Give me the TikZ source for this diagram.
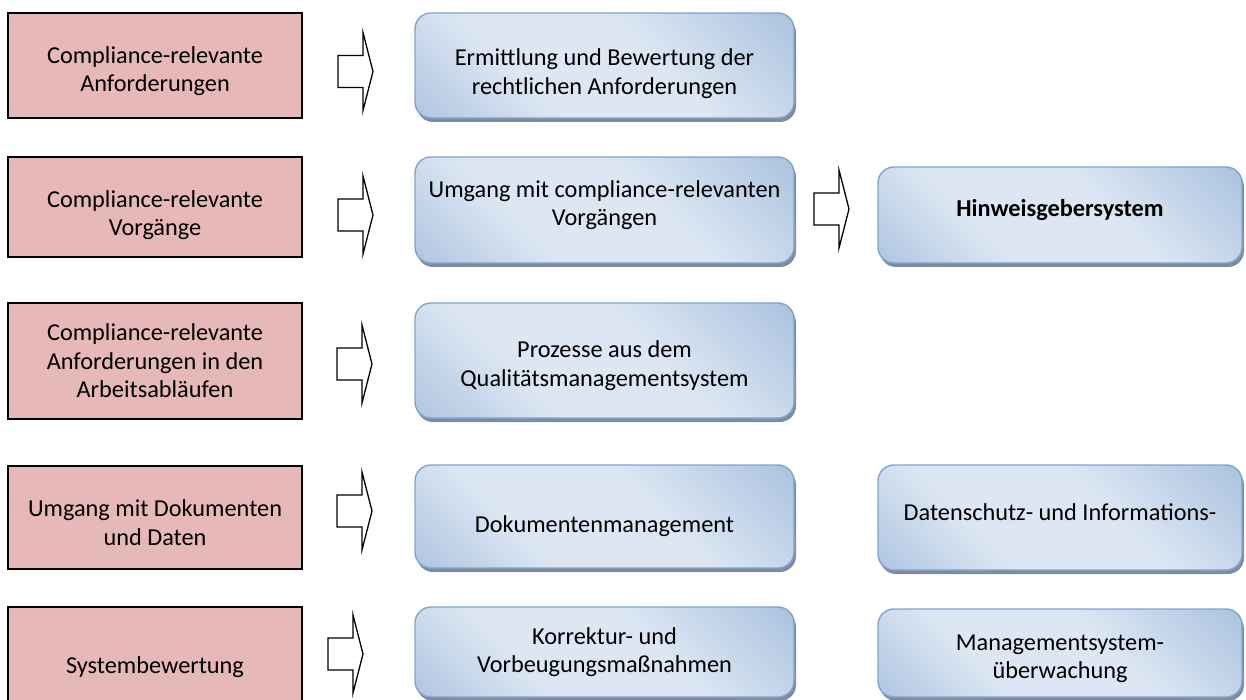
\documentclass[tikz,border=0pt]{standalone}
\usepackage{fontspec}
\setmainfont{Carlito}
\usetikzlibrary{shadows}
\definecolor{redfill}{RGB}{230,185,184}
\definecolor{bdark}{RGB}{143,174,212}
\definecolor{blight}{RGB}{221,231,243}
\definecolor{bborder}{RGB}{130,163,208}
\definecolor{shadowc}{RGB}{125,140,163}
\pgfdeclareverticalshading{bluesheen}{100bp}{color(0bp)=(bdark); color(36bp)=(blight); color(58bp)=(blight); color(100bp)=(bdark)}
\begin{document}
\begin{tikzpicture}[x=1pt,y=-1pt,
 redbox/.style={draw=black, line width=1.4pt, fill=redfill, minimum width=294pt, inner sep=0pt},
 bluebox/.style={shade, shading=bluesheen, shading angle=-45, draw=bborder, line width=1.4pt, rounded corners=16pt, inner sep=0pt,
   drop shadow={shadow xshift=2pt, shadow yshift=-4pt, fill=shadowc, opacity=1}},
 midbox/.style={bluebox, minimum width=379pt},
 rightbox/.style={bluebox, minimum width=364pt},
 txt/.style={align=center, font=\fontsize{24.3}{28.5}\selectfont, inner sep=0pt},
 arrowline/.style={draw=black, line width=1.3pt, fill=white, line join=miter},
 barrow/.pic={\path[arrowline] (0,-16) -- (25,-16) -- (25,-39) -- (35,0) -- (25,39) -- (25,16) -- (0,16) -- cycle;}
]
\useasboundingbox (0,0) rectangle (1246,700);
\fill[white] (0,0) rectangle (1246,700);
\clip (0,0) rectangle (1246,700);

% left column
\node[redbox, minimum height=105pt] (r1) at (155,65.5) {};
\node[txt] (tr1) at ([yshift=-5.5pt]r1.center) {Compliance-relevante\\Anforderungen};
\node[redbox, minimum height=100pt] (r2) at (155,207) {};
\node[txt] (tr2) at ([yshift=-8pt]r2.center) {Compliance-relevante\\Vorgänge};
\node[redbox, minimum height=116pt] (r3) at (155,361) {};
\node[txt] (tr3) at (r3.center) {Compliance-relevante\\Anforderungen in den\\Arbeitsabläufen};
\node[redbox, minimum height=103pt] (r4) at (155,517.5) {};
\node[txt] (tr4) at ([yshift=-5pt]r4.center) {Umgang mit Dokumenten\\und Daten};
\node[redbox, minimum height=110pt] (r5) at (155,662) {};
\node[txt] (tr5) at ([yshift=-5pt]r5.center) {Systembewertung};

% middle column
\node[midbox, minimum height=105pt] (b1) at (604.5,65.5) {};
\node[txt] (tb1) at ([yshift=-8pt]b1.center) {Ermittlung und Bewertung der\\rechtlichen Anforderungen};
\node[midbox, minimum height=106pt] (b2) at (604.5,210) {};
\node[txt] (tb2) at ([yshift=5pt]b2.center) {Umgang mit compliance-relevanten\\Vorgängen};
\node[midbox, minimum height=115pt] (b3) at (604.5,360.5) {};
\node[txt] (tb3) at ([yshift=-5pt]b3.center) {Prozesse aus dem\\Qualitätsmanagementsystem};
\node[midbox, minimum height=103pt] (b4) at (604.5,516.5) {};
\node[txt] (tb4) at ([yshift=-10pt]b4.center) {Dokumentenmanagement};
\node[midbox, minimum height=90pt] (b5) at (604.5,652) {};
\node[txt] (tb5) at (b5.center) {Korrektur- und\\Vorbeugungsmaßnahmen};

% right column
\node[rightbox, minimum height=96pt] (h) at (1060,215) {};
\node[txt, font=\fontsize{24.3}{28.5}\selectfont\bfseries] (th) at ([yshift=5pt]h.center) {Hinweisgebersystem};
\node[rightbox, minimum height=105pt] (d) at (1060,517.5) {};
\node[txt] (td) at ([yshift=5pt]d.center) {Datenschutz- und Informations-};
\node[rightbox, minimum height=88pt] (m) at (1060,653) {};
\node[txt] (tm) at ([yshift=-6pt]m.center) {Managementsystem-\\überwachung};

% block arrows
\pic (a1) at (338,71.5) {barrow};
\pic (a2) at (338,215) {barrow};
\pic (a3) at (337,364) {barrow};
\pic (a4) at (337,511) {barrow};
\pic (a5) at (328,654) {barrow};
\pic (a6) at (814,209) {barrow};
\end{tikzpicture}
\end{document}
